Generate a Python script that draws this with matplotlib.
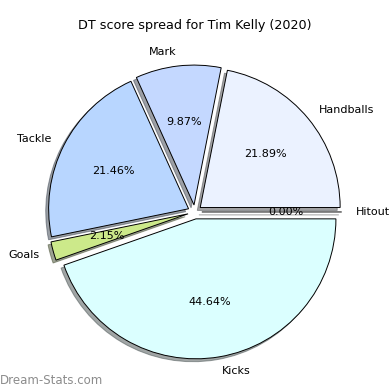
import matplotlib
matplotlib.use('Agg')
import matplotlib.pyplot as plt

# DT score breakdown
labels = ['Hitout', 'Handballs', 'Mark', 'Tackle', 'Goals', 'Kicks']
shares = [0.00, 21.89, 9.87, 21.46, 2.15, 44.64]
colors = ['#e0e0e0', '#ebf2ff', '#c4d8ff', '#b8d6ff', '#cce98a', '#dbffff']

fig = plt.figure(figsize=(3.9, 3.9), dpi=100)
ax = fig.add_axes([0.051, 0.008, 0.897, 0.897])

explode = [0.05] * len(shares)
wedges, texts, autotexts = ax.pie(
    shares, labels=labels, colors=colors, explode=explode,
    autopct='%.2f%%', shadow={'ox': -0.015, 'oy': -0.015}, startangle=0,
    wedgeprops={'edgecolor': 'black', 'linewidth': 0.7},
    textprops={'fontsize': 8})

ax.set_title('DT score spread for Tim Kelly (2020)', fontsize=9.2)
fig.text(0.0, 0.008, 'Dream-Stats.com', color='#8c8c8c', fontsize=8.5,
         ha='left', va='bottom')

plt.savefig('out.png', dpi=100)
